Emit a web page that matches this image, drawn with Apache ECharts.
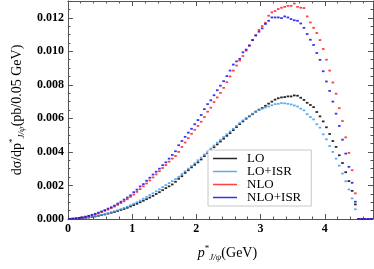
<!DOCTYPE html>
<html><head><meta charset="utf-8">
<script src="https://cdn.jsdelivr.net/npm/echarts@6/dist/echarts.min.js"></script>
<style>html,body{margin:0;padding:0;background:#fff}#c{width:374px;height:269px}</style>
</head><body><div id="c"></div>
<script>
const binCenters = [
0.025,0.075,0.125,0.175,0.225,0.275,0.325,0.375,0.425,0.475,
0.525,0.575,0.625,0.675,0.725,0.775,0.825,0.875,0.925,0.975,
1.025,1.075,1.125,1.175,1.225,1.275,1.325,1.375,1.425,1.475,
1.525,1.575,1.625,1.675,1.725,1.775,1.825,1.875,1.925,1.975,
2.025,2.075,2.125,2.175,2.225,2.275,2.325,2.375,2.425,2.475,
2.525,2.575,2.625,2.675,2.725,2.775,2.825,2.875,2.925,2.975,
3.025,3.075,3.125,3.175,3.225,3.275,3.325,3.375,3.425,3.475,
3.525,3.575,3.625,3.675,3.725,3.775,3.825,3.875,3.925,3.975,
4.025,4.075,4.125,4.175,4.225,4.275,4.325,4.375,4.425,4.475,
4.525,4.575,4.625,4.675,4.725];

const LO = [
0.000005,0.00001,0.00002,0.00003,0.00005,0.00007,0.00009,0.00012,0.00015,0.00019,
0.00023,0.00027,0.00032,0.00037,0.00042,0.00048,0.00054,0.00060,0.00067,0.00075,
0.00083,0.00091,0.00100,0.00109,0.00118,0.00128,0.00138,0.00149,0.00160,0.00172,
0.00184,0.00195,0.00206,0.00222,0.00240,0.00255,0.00275,0.00291,0.00308,0.00323,
0.00338,0.00355,0.00375,0.00392,0.00410,0.00428,0.00445,0.00462,0.00479,0.00496,
0.00512,0.00530,0.00548,0.00566,0.00582,0.00598,0.00612,0.00625,0.00640,0.00652,
0.00662,0.00675,0.00688,0.00700,0.00712,0.00720,0.00725,0.00727,0.00731,0.00731,
0.00737,0.00735,0.00723,0.00710,0.00693,0.00680,0.00667,0.00638,0.00612,0.00582,
0.00547,0.00507,0.00465,0.00430,0.00380,0.00334,0.00279,0.00226,0.00168,0.00087,
0,0,0,0,0];

const LO_ISR = [
0.000005,0.00001,0.00002,0.00004,0.00006,0.00008,0.00010,0.00013,0.00017,0.00021,
0.00025,0.00030,0.00035,0.00040,0.00046,0.00052,0.00059,0.00066,0.00073,0.00082,
0.00091,0.00100,0.00110,0.00121,0.00132,0.00143,0.00153,0.00165,0.00177,0.00190,
0.00202,0.00214,0.00226,0.00238,0.00252,0.00268,0.00284,0.00300,0.00316,0.00332,
0.00350,0.00366,0.00385,0.00402,0.00420,0.00438,0.00455,0.00472,0.00489,0.00505,
0.00522,0.00538,0.00555,0.00572,0.00588,0.00602,0.00615,0.00628,0.00640,0.00650,
0.00658,0.00665,0.00671,0.00678,0.00685,0.00687,0.00691,0.00690,0.00687,0.00683,
0.00677,0.00671,0.00658,0.00648,0.00625,0.00608,0.00594,0.00565,0.00545,0.00505,
0.00475,0.00435,0.00400,0.00360,0.00318,0.00271,0.00225,0.00176,0.00123,0.00058,
0,0,0,0,0];

const NLO = [
0.00001,0.00002,0.00004,0.00006,0.00009,0.00013,0.00017,0.00022,0.00028,0.00034,
0.00041,0.00048,0.00056,0.00065,0.00074,0.00084,0.00095,0.00106,0.00118,0.00132,
0.00146,0.00162,0.00178,0.00195,0.00212,0.00230,0.00248,0.00266,0.00285,0.00304,
0.00322,0.00342,0.00360,0.00376,0.00400,0.00430,0.00456,0.00482,0.00508,0.00532,
0.00555,0.00580,0.00608,0.00640,0.00664,0.00697,0.00725,0.00752,0.00782,0.00816,
0.00850,0.00885,0.00915,0.00945,0.00972,0.01004,0.01035,0.01067,0.01095,0.01127,
0.01150,0.01170,0.01212,0.01232,0.01240,0.01252,0.01260,0.01265,0.01271,0.01271,
0.01285,0.01265,0.01260,0.01258,0.01208,0.01172,0.01140,0.01109,0.01067,0.01014,
0.00950,0.00885,0.00814,0.00747,0.00661,0.00584,0.00487,0.00394,0.00291,0.00153,
0,0,0,0,0];

const NLO_ISR = [
0.00001,0.00002,0.00004,0.00007,0.00010,0.00014,0.00019,0.00025,0.00031,0.00038,
0.00045,0.00053,0.00062,0.00070,0.00080,0.00092,0.00103,0.00116,0.00128,0.00141,
0.00160,0.00175,0.00194,0.00208,0.00228,0.00246,0.00265,0.00282,0.00300,0.00321,
0.00338,0.00360,0.00382,0.00404,0.00440,0.00465,0.00490,0.00515,0.00538,0.00565,
0.00590,0.00620,0.00655,0.00685,0.00708,0.00738,0.00768,0.00795,0.00822,0.00852,
0.00885,0.00921,0.00940,0.00955,0.00994,0.01010,0.01034,0.01067,0.01095,0.01117,
0.01137,0.01163,0.01182,0.01202,0.01202,0.01202,0.01198,0.01208,0.01202,0.01192,
0.01185,0.01182,0.01166,0.01140,0.01103,0.01069,0.01038,0.00990,0.00949,0.00881,
0.00820,0.00764,0.00700,0.00628,0.00555,0.00473,0.00390,0.00311,0.00216,0.00103,
0,0,0,0,0];

const seriesNames = ['LO','LO+ISR','NLO','NLO+ISR'];
const seriesColors = ['#000000','#3d9df2','#ff2020','#1010ee'];
const seriesValues = [LO, LO_ISR, NLO, NLO_ISR];

const serif = 'Liberation Serif, Times New Roman, serif';
const frame = '#555';

function frameAxis(extra) {
  return Object.assign({
    type: 'value',
    axisLine: { show: true, onZero: false, lineStyle: { color: frame, width: 1 } },
    axisTick: { show: true, inside: true, length: 5, lineStyle: { color: frame } },
    minorTick: { show: true, length: 2.5, lineStyle: { color: frame } },
    splitLine: { show: false },
    minorSplitLine: { show: false }
  }, extra);
}

const chart = echarts.init(document.getElementById('c'), null, { renderer: 'canvas' });
chart.setOption({
  animation: false,
  backgroundColor: '#fff',
  grid: { left: 67, right: 1, top: 1, bottom: 50 },
  legend: {
    orient: 'vertical', left: 208, top: 150,
    backgroundColor: '#fff', borderColor: '#c8c8c8', borderWidth: 1,
    padding: [2, 10, 2, 5], itemGap: 0, itemWidth: 24, itemHeight: 1.5,
    textStyle: { fontFamily: serif, fontSize: 13, color: '#000', lineHeight: 11, padding: [0, 0, 0, 5] },
    data: seriesNames.map(n => ({ name: n, icon: 'rect' })),
    z: 10
  },
  xAxis: [
    frameAxis({
      position: 'bottom', min: 0, max: 4.75, interval: 1,
      minorTick: { show: true, splitNumber: 5, length: 2.5, lineStyle: { color: frame } },
      axisLabel: { show: true, showMaxLabel: false, fontFamily: serif, fontWeight: 'bold', fontSize: 12, color: '#000', margin: 4 },
      name: '{i|p}{sup|*}{sub|J/ψ}{t|(GeV)}',
      nameLocation: 'middle', nameGap: 25,
      nameTextStyle: {
        padding: [0, 0, 0, 14],
        rich: {
          i: { fontFamily: serif, fontStyle: 'italic', fontSize: 14, color: '#000', lineHeight: 18 },
          sup: { fontFamily: serif, fontSize: 9, color: '#000', verticalAlign: 'top', lineHeight: 18 },
          sub: { fontFamily: serif, fontStyle: 'italic', fontSize: 9, color: '#000', verticalAlign: 'bottom', lineHeight: 18 },
          t: { fontFamily: serif, fontSize: 14, color: '#000', lineHeight: 18 }
        }
      }
    }),
    frameAxis({
      position: 'top', min: 0, max: 4.75, interval: 1,
      minorTick: { show: true, splitNumber: 5, length: 2.5, lineStyle: { color: frame } },
      axisLabel: { show: false }
    })
  ],
  yAxis: [
    frameAxis({
      position: 'left', min: 0, max: 0.013, interval: 0.002,
      minorTick: { show: true, splitNumber: 4, length: 2.5, lineStyle: { color: frame } },
      axisLabel: { show: true, showMaxLabel: false, fontFamily: serif, fontWeight: 'bold', fontSize: 12, color: '#000', margin: 4,
        formatter: v => v.toFixed(3) },
      name: '{t|dσ/dp}{sup|*}{sub|J/ψ}{t|(pb/0.05 GeV)}',
      nameLocation: 'middle', nameGap: 40,
      nameTextStyle: {
        rich: {
          t: { fontFamily: serif, fontSize: 14, color: '#000', lineHeight: 18 },
          sup: { fontFamily: serif, fontSize: 9, color: '#000', verticalAlign: 'top', lineHeight: 18 },
          sub: { fontFamily: serif, fontStyle: 'italic', fontSize: 9, color: '#000', verticalAlign: 'bottom', lineHeight: 18 }
        }
      }
    }),
    frameAxis({
      position: 'right', min: 0, max: 0.013, interval: 0.002,
      minorTick: { show: true, splitNumber: 4, length: 2.5, lineStyle: { color: frame } },
      axisLabel: { show: false }
    })
  ],
  series: seriesNames.map((n, k) => ({
    name: n,
    type: 'scatter',
    xAxisIndex: 0, yAxisIndex: 0,
    symbol: 'rect',
    symbolSize: [2.6, 1.8],
    itemStyle: { color: seriesColors[k], opacity: 0.85 },
    emphasis: { disabled: true },
    data: binCenters.map((x, i) => [x, seriesValues[k][i]])
  }))
});
</script>
</body></html>
